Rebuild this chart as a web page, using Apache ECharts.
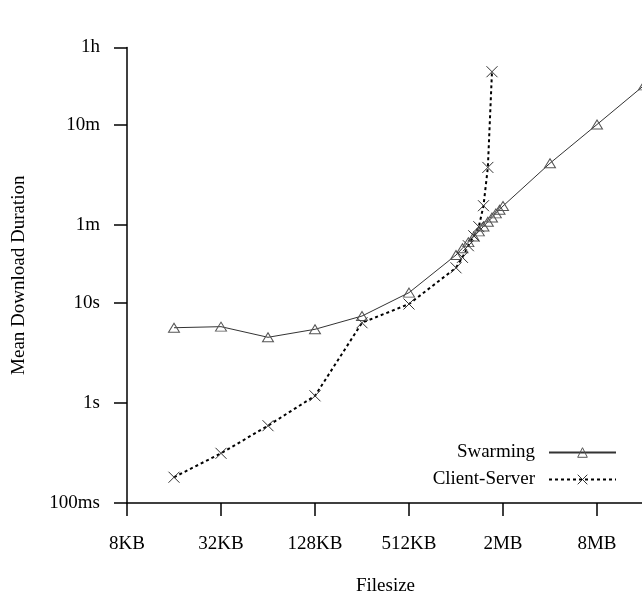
<!DOCTYPE html>
<html>
<head>
<meta charset="utf-8">
<script src="https://cdn.jsdelivr.net/npm/echarts@6/dist/echarts.min.js"></script>
<style>
html,body{margin:0;padding:0;background:#fff;}
#chart{width:642px;height:598px;}
</style>
</head>
<body>
<div id="chart"></div>
<script>
// File sizes in KB
const swarmSizes = [16, 32, 64, 128, 256, 512, 1024, 1126, 1229, 1331, 1434, 1536, 1638, 1741, 1843, 1946, 2048, 4096, 8192, 16384];
// Mean download duration in seconds
const swarmDurations = [5.66, 5.8, 4.54, 5.46, 7.41, 12.7, 30.2, 35.3, 40.6, 46.2, 52.1, 58.3, 64.9, 71.6, 78.7, 85.7, 93.3, 250, 610, 1500];

const csSizes = [16, 32, 64, 128, 256, 512, 1024, 1126, 1229, 1331, 1434, 1536, 1638, 1741];
const csDurations = [0.181, 0.314, 0.593, 1.18, 6.35, 9.77, 22.5, 28.6, 37.4, 47, 58, 94, 227, 2056];

const xTickValues = [8, 32, 128, 512, 2048, 8192];
const xTickLabels = ['8KB', '32KB', '128KB', '512KB', '2MB', '8MB'];
const yTickValues = [0.1, 1, 10, 60, 600, 3600];
const yTickLabels = ['100ms', '1s', '10s', '1m', '10m', '1h'];

function lookup(values, labels, v) {
  let best = 0, bd = Infinity;
  for (let i = 0; i < values.length; i++) {
    const d = Math.abs(Math.log(values[i]) - Math.log(v));
    if (d < bd) { bd = d; best = i; }
  }
  return bd < 0.01 ? labels[best] : '';
}

const FONT = 'Liberation Serif';
const FS = 19;

const chart = echarts.init(document.getElementById('chart'), null, {renderer: 'canvas'});
chart.setOption({
  animation: false,
  backgroundColor: '#fff',
  textStyle: {fontFamily: FONT},
  grid: {left: 127, top: 47.4, width: 517, height: 455.6, containLabel: false, outerBoundsMode: 'none'},
  xAxis: {
    type: 'log', logBase: 2, min: 8, max: 16384,
    name: 'Filesize', nameLocation: 'middle', nameGap: 74,
    nameTextStyle: {fontFamily: FONT, fontSize: FS, color: '#000'},
    axisLine: {show: true, lineStyle: {color: '#000', width: 1.5}},
    axisTick: {show: true, inside: false, length: 13, lineStyle: {color: '#000', width: 1.5}, customValues: xTickValues},
    minorTick: {show: false},
    axisLabel: {customValues: xTickValues, margin: 32, fontFamily: FONT, fontSize: FS, color: '#000',
      formatter: v => lookup(xTickValues, xTickLabels, v)},
    splitLine: {show: false}
  },
  yAxis: {
    type: 'log', logBase: 10, min: 0.1, max: 3600,
    name: 'Mean Download Duration', nameLocation: 'middle', nameGap: 98, nameRotate: 90,
    nameTextStyle: {fontFamily: FONT, fontSize: FS, color: '#000'},
    axisLine: {show: true, lineStyle: {color: '#000', width: 1.5}},
    axisTick: {show: true, inside: false, length: 13, lineStyle: {color: '#000', width: 1.5}, customValues: yTickValues},
    minorTick: {show: false},
    axisLabel: {customValues: yTickValues, margin: 27, fontFamily: FONT, fontSize: FS, color: '#000',
      formatter: v => lookup(yTickValues, yTickLabels, v)},
    splitLine: {show: false}
  },
  legend: {
    orient: 'vertical', right: 20, top: 438, align: 'right', itemGap: 8,
    itemWidth: 67, itemHeight: 12,
    itemStyle: {borderWidth: 1, color: 'rgba(255,255,255,0)'},
    textStyle: {fontFamily: FONT, fontSize: FS, color: '#000', padding: [0, 9, 0, 0]},
    data: ['Swarming', 'Client-Server']
  },
  series: [
    {
      name: 'Swarming', type: 'line',
      data: swarmSizes.map((s, i) => [s, swarmDurations[i]]),
      symbol: 'triangle', symbolSize: [11, 9],
      lineStyle: {color: '#333', width: 1},
      itemStyle: {color: 'rgba(255,255,255,0)', borderColor: '#555', borderWidth: 1},
      emphasis: {disabled: true}, clip: false
    },
    {
      name: 'Client-Server', type: 'line',
      data: csSizes.map((s, i) => [s, csDurations[i]]),
      symbol: 'path://M0,0L10,10M10,0L0,10', symbolSize: 11, symbolKeepAspect: true,
      lineStyle: {color: '#000', width: 2, type: [3, 3]},
      itemStyle: {color: 'rgba(0,0,0,0)', borderColor: '#333', borderWidth: 1},
      emphasis: {disabled: true}, clip: false
    }
  ]
});
</script>
</body>
</html>
